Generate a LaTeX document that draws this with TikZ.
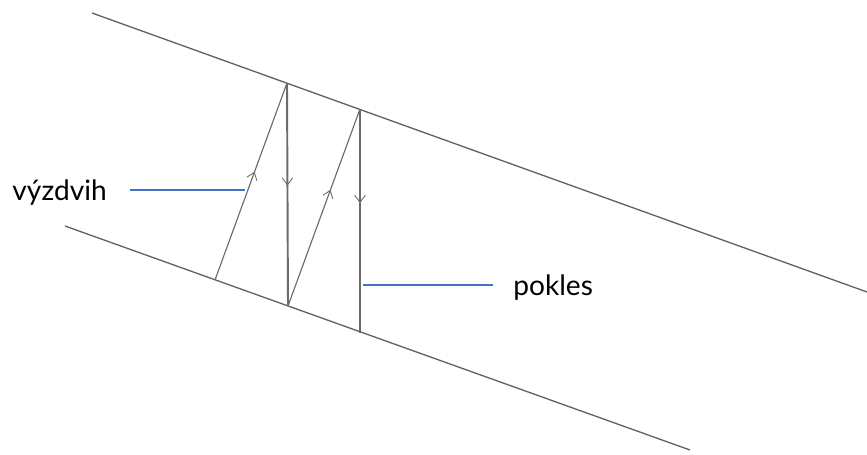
\documentclass[tikz,border=0pt]{standalone}
\usepackage{fontspec}
\setmainfont{Lato}
\usetikzlibrary{arrows.meta,decorations.markings}
\definecolor{leaderblue}{RGB}{68,114,196}

\begin{document}
\begin{tikzpicture}[x=0.02cm, y=-0.02cm,
    bank/.style={draw=black!62, line width=0.75pt},
    flow/.style={draw=black!58, postaction={decorate}, decoration={markings, mark=at position #1 with {\arrow[line width=0.5pt]{Straight Barb[length=4pt, width=6pt]}}}},
    lift/.style={flow=#1, line width=0.65pt},
    drop/.style={flow=#1, line width=1.1pt},
    leader/.style={draw=leaderblue, line width=0.6pt},
    lbl/.style={font=\fontsize{16}{18}\selectfont, inner sep=0pt}
]
\useasboundingbox (0,0) rectangle (867,454);

% hranice
\coordinate (ua) at (92,13);
\coordinate (ub) at (867,292);
\coordinate (la) at (65,226);
\coordinate (lb) at (690,450);
\draw[bank] (ua) -- (ub);
\draw[bank] (la) -- (lb);

% body na hranicich
\coordinate (b1) at (215,280);
\coordinate (t1) at (287,83);
\coordinate (b2) at (288,306);
\coordinate (t2) at (360,109);
\coordinate (b3) at (360,333);

\draw[lift=0.55] (b1) -- (t1);
\draw[drop=0.46] (t1) -- (b2);
\draw[lift=0.59] (b2) -- (t2);
\draw[drop=0.42] (t2) -- (b3);

% popisky
\node[lbl, anchor=base east] (vyz) at (107,200) {výzdvih};
\node[lbl, anchor=base west] (pok) at (513,295) {pokles};
\coordinate (vyzA) at (130,190);
\coordinate (vyzB) at (245,190);
\coordinate (pokA) at (363,285);
\coordinate (pokB) at (493,285);
\draw[leader] (vyzA) -- (vyzB);
\draw[leader] (pokA) -- (pokB);
\end{tikzpicture}
\end{document}
